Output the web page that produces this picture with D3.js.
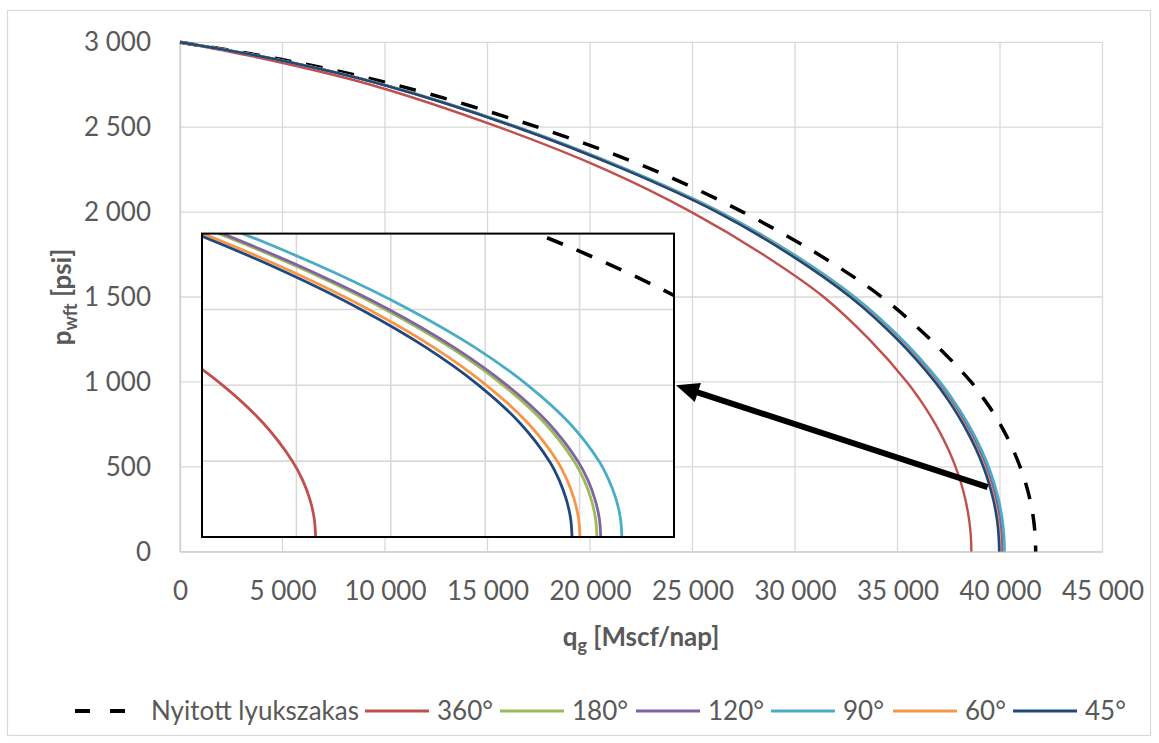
<!DOCTYPE html>
<html><head><meta charset="utf-8">
<script src="https://cdn.jsdelivr.net/npm/d3@7"></script>
<style>
body{margin:0;background:#fff;}
svg text{font-family:Lato,"Open Sans",sans-serif;}
</style></head><body>
<svg id="chart" width="1159" height="743"></svg>
<script>
// ---------- data ----------
const pressures = [3000, 2900, 2750, 2500, 2250, 2000, 1750, 1500, 1250, 1000, 900, 800, 700, 600, 500, 400, 300, 200, 150, 100, 50, 0];
const qOpenHole = [0, 4900, 10500, 17450, 23050, 27460, 31150, 34230, 36600, 38590, 39210, 39772, 40240, 40640, 40980, 41260, 41475, 41625, 41675, 41712, 41733, 41740];
const q360 = [0, 4200, 9300, 15550, 20750, 24952, 28442, 31400, 33623, 35460, 36069, 36608, 37081, 37488, 37831, 38110, 38325, 38479, 38533, 38571, 38594, 38602];
const q180 = [0, 4665, 9933, 16454, 21772, 26286, 29858, 32808, 35105, 36952, 37554, 38090, 38562, 38970, 39315, 39596, 39816, 39971, 40024, 40061, 40084, 40092];
const q120 = [0, 4668, 9938, 16462, 21782, 26300, 29873, 32824, 35123, 36970, 37572, 38109, 38581, 38990, 39335, 39616, 39836, 39991, 40044, 40081, 40104, 40112];
const q90  = [0, 4681, 9965, 16508, 21843, 26373, 29956, 32916, 35221, 37073, 37677, 38216, 38689, 39098, 39445, 39726, 39947, 40103, 40155, 40193, 40216, 40224];
const q60  = [0, 4655, 9910, 16417, 21723, 26228, 29791, 32734, 35027, 36869, 37469, 38005, 38475, 38883, 39227, 39507, 39727, 39882, 39934, 39971, 39994, 40002];
const q45  = [0, 4650, 9900, 16400, 21700, 26200, 29760, 32700, 34990, 36830, 37430, 37965, 38435, 38842, 39186, 39466, 39685, 39840, 39892, 39929, 39952, 39960];
const seriesNames = ["Nyitott lyukszakas", "360°", "180°", "120°", "90°", "60°", "45°"];
const xTickValues = [0, 5000, 10000, 15000, 20000, 25000, 30000, 35000, 40000, 45000];
const yTickValues = [0, 500, 1000, 1500, 2000, 2500, 3000];
const insetXDomain = [38000, 40500];
const insetYDomain = [0, 800];
const insetXGrid = [38500, 39000, 39500, 40000];
const insetYGrid = [200, 400, 600];
const arrowFrom = [39400, 380];   // main-chart coordinates
const arrowTo = [40500, 400];     // inset coordinates

// ---------- styles / layout ----------
const seriesQ = [qOpenHole, q360, q180, q120, q90, q60, q45];
const colors = ["#000000", "#C0504D", "#9BBB59", "#8064A2", "#4BACC6", "#F79646", "#1F497D"];
const widths = [3.5, 2.4, 2.6, 2.6, 2.6, 2.6, 2.6];
const dashes = ["17,15", null, null, null, null, null, null];
const legendStarts = [75, 365, 500, 636, 771, 893, 1013];
const textColor = "#595959";
const gridColor = "#D9D9D9";

const series = seriesNames.map((name, i) => ({
  name, color: colors[i], width: widths[i], dash: dashes[i],
  points: pressures.map((p, j) => ({p, q: seriesQ[i][j]}))
}));

const svg = d3.select("#chart");
const x = d3.scaleLinear().domain([0, 45000]).range([180, 1102.5]);
const y = d3.scaleLinear().domain([0, 3000]).range([551.7, 42.3]);
const curve = d3.curveCatmullRom.alpha(0.5);

// outer border
svg.append("rect").attr("x", 7.5).attr("y", 10.5).attr("width", 1143).attr("height", 725)
  .attr("fill", "#fff").attr("stroke", gridColor).attr("stroke-width", 1.2);

// gridlines
const grid = svg.append("g");
grid.selectAll(".vx").data(xTickValues).join("line")
  .attr("x1", d => x(d)).attr("x2", d => x(d)).attr("y1", y(0)).attr("y2", y(3000))
  .attr("stroke", gridColor).attr("stroke-width", 1.3);
grid.selectAll(".hy").data(yTickValues).join("line")
  .attr("x1", x(0)).attr("x2", x(45000)).attr("y1", d => y(d)).attr("y2", d => y(d))
  .attr("stroke", gridColor).attr("stroke-width", 1.3);

// axes (labels)
const loc = d3.formatLocale({decimal: ",", thousands: "\u00a0", grouping: [3], currency: ["", ""]});
const fmt = loc.format(",d");
const yAxis = svg.append("g").attr("transform", `translate(${x(0)},0)`)
  .call(d3.axisLeft(y).tickValues(yTickValues).tickFormat(fmt).tickSize(0).tickPadding(29));
const xAxis = svg.append("g").attr("transform", `translate(0,${y(0)})`)
  .call(d3.axisBottom(x).tickValues(xTickValues).tickFormat(fmt).tickSize(0).tickPadding(30));
[yAxis, xAxis].forEach(a => {
  a.select(".domain").attr("stroke", "#CFCFCF").attr("stroke-width", 1.3);
  a.selectAll("text").attr("fill", textColor).style("font-size", "26px");
});

// curves
svg.append("clipPath").attr("id", "clipMain").append("rect")
  .attr("x", x(0) - 3).attr("y", y(3000) - 3).attr("width", x(45000) - x(0) + 3).attr("height", y(0) - y(3000) + 3);
const lineMain = d3.line().x(d => x(d.q)).y(d => y(d.p)).curve(curve);
svg.append("g").attr("clip-path", "url(#clipMain)")
  .selectAll("path").data(series).join("path")
  .attr("d", d => lineMain(d.points)).attr("fill", "none")
  .attr("stroke", d => d.color).attr("stroke-width", d => d.width)
  .attr("stroke-dasharray", d => d.dash);

// inset
const xi = d3.scaleLinear().domain(insetXDomain).range([202, 674]);
const yi = d3.scaleLinear().domain(insetYDomain).range([537, 233.6]);
const inset = svg.append("g");
inset.append("rect").attr("x", xi(insetXDomain[0])).attr("y", yi(insetYDomain[1]))
  .attr("width", xi(insetXDomain[1]) - xi(insetXDomain[0])).attr("height", yi(insetYDomain[0]) - yi(insetYDomain[1]))
  .attr("fill", "#fff");
inset.selectAll(".ivx").data(insetXGrid).join("line")
  .attr("x1", d => xi(d)).attr("x2", d => xi(d)).attr("y1", yi(insetYDomain[0])).attr("y2", yi(insetYDomain[1]))
  .attr("stroke", gridColor).attr("stroke-width", 1.6);
inset.selectAll(".ihy").data(insetYGrid).join("line")
  .attr("x1", xi(insetXDomain[0])).attr("x2", xi(insetXDomain[1])).attr("y1", d => yi(d)).attr("y2", d => yi(d))
  .attr("stroke", gridColor).attr("stroke-width", 1.6);
svg.append("clipPath").attr("id", "clipInset").append("rect")
  .attr("x", xi(insetXDomain[0])).attr("y", yi(insetYDomain[1]))
  .attr("width", xi(insetXDomain[1]) - xi(insetXDomain[0])).attr("height", yi(insetYDomain[0]) - yi(insetYDomain[1]));
const lineInset = d3.line().x(d => xi(d.q)).y(d => yi(d.p)).curve(curve);
inset.append("g").attr("clip-path", "url(#clipInset)")
  .selectAll("path").data(series).join("path")
  .attr("d", d => lineInset(d.points)).attr("fill", "none")
  .attr("stroke", d => d.color).attr("stroke-width", d => d.dash ? 3.6 : 2.8)
  .attr("stroke-dasharray", d => d.dash);
inset.append("rect").attr("x", xi(insetXDomain[0])).attr("y", yi(insetYDomain[1]))
  .attr("width", xi(insetXDomain[1]) - xi(insetXDomain[0])).attr("height", yi(insetYDomain[0]) - yi(insetYDomain[1]))
  .attr("fill", "none").attr("stroke", "#000").attr("stroke-width", 2);

// arrow
const ax0 = x(arrowFrom[0]), ay0 = y(arrowFrom[1]);
const ax1 = xi(arrowTo[0]) + 2, ay1 = yi(arrowTo[1]);
const dx = ax1 - ax0, dy = ay1 - ay0, len = Math.hypot(dx, dy);
const ux = dx / len, uy = dy / len, headL = 23, headW = 10;
const bx = ax1 - ux * headL, by = ay1 - uy * headL;
svg.append("line").attr("x1", ax0).attr("y1", ay0).attr("x2", bx + ux * 2).attr("y2", by + uy * 2)
  .attr("stroke", "#000").attr("stroke-width", 6);
svg.append("path")
  .attr("d", `M${ax1},${ay1}L${bx - uy * headW},${by + ux * headW}L${bx + uy * headW},${by - ux * headW}Z`)
  .attr("fill", "#000");

// axis titles
const xt = svg.append("text").attr("x", 641).attr("y", 646).attr("text-anchor", "middle")
  .attr("fill", textColor).style("font-size", "26px").style("font-weight", "bold");
xt.append("tspan").text("q");
xt.append("tspan").text("g").style("font-size", "18px").attr("dy", 6);
xt.append("tspan").text(" [Mscf/nap]").attr("dy", -6);

const yt = svg.append("text").attr("transform", "translate(71,297) rotate(-90)").attr("text-anchor", "middle")
  .attr("fill", textColor).style("font-size", "26px").style("font-weight", "bold");
yt.append("tspan").text("p");
yt.append("tspan").text("wft").style("font-size", "18px").attr("dy", 6);
yt.append("tspan").text(" [psi]").attr("dy", -6);

// legend
const legY = 711;
const leg = svg.append("g");
series.forEach((s, i) => {
  const x0 = legendStarts[i];
  leg.append("line").attr("x1", x0).attr("x2", x0 + 64).attr("y1", legY).attr("y2", legY)
    .attr("stroke", s.color).attr("stroke-width", s.dash ? 4 : 3)
    .attr("stroke-dasharray", s.dash ? "15,20" : null);
  leg.append("text").attr("x", x0 + (s.dash ? 76 : 72)).attr("y", legY).attr("dy", "0.35em")
    .attr("fill", textColor).style("font-size", "26px").text(s.name);
});
</script>
</body></html>
